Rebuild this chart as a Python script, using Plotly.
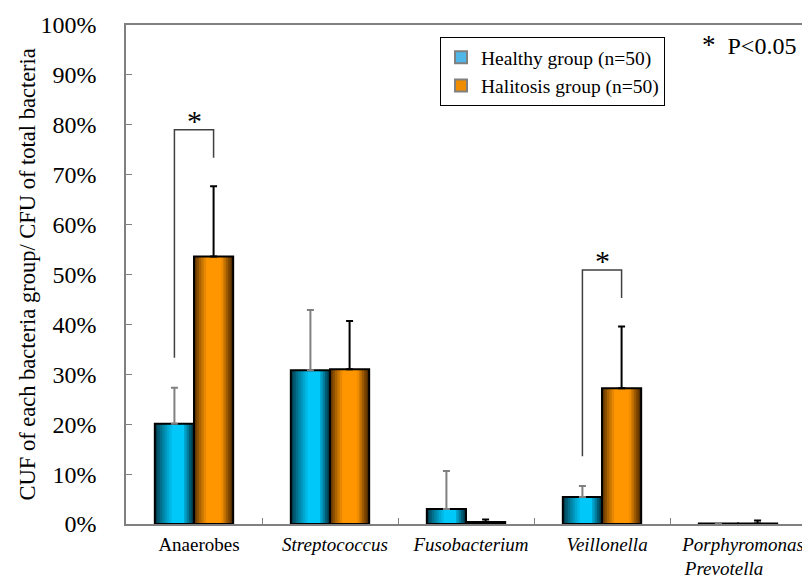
import plotly.graph_objects as go

categories = ["Anaerobes", "Streptococcus", "Fusobacterium", "Veillonella", "Porphyromonas Prevotella"]
tick_labels = ["Anaerobes", "<i>Streptococcus</i>", "<i>Fusobacterium</i>", "<i>Veillonella</i>",
               "<i>Porphyromonas</i><br><i>Prevotella</i>\u00a0\u00a0\u00a0\u00a0\u00a0\u00a0\u00a0\u00a0"]
healthy = [20.1, 30.8, 3.0, 5.4, 0.1]
healthy_sd = [7.2, 12.1, 7.6, 2.2, 0.1]
halitosis = [53.6, 31.0, 0.4, 27.2, 0.1]
halitosis_sd = [14.1, 9.7, 0.5, 12.4, 0.6]
significant = [0, 3]
y_ticks = [0, 10, 20, 30, 40, 50, 60, 70, 80, 90, 100]
y_tick_text = [f"{v}%" for v in y_ticks]
y_title = "CUF of each bacteria group/ CFU of total bacteria"

FONT = "Liberation Serif"
W = 0.288          # bar width in category units
N = 16             # gradient strips per bar

def profile(t, lo, hi):
    if t < lo:
        return 0.12 + 0.88 * (t / lo) ** 0.8
    if t <= hi:
        return 1.0
    return 1.0 - 0.9 * ((t - hi) / (1 - hi)) ** 0.9

def mix(dark, bright, b):
    return "rgb(%d,%d,%d)" % tuple(int(d + (br - d) * b) for d, br in zip(dark, bright))

series = [
    dict(name="Healthy group (n=50)", y=healthy, sd=healthy_sd, base=-W,
         dark=(0, 25, 35), bright=(0, 200, 248), lo=0.45, hi=0.72, err="#808080", legend_color="#4fb8e8"),
    dict(name="Halitosis group (n=50)", y=halitosis, sd=halitosis_sd, base=0.0,
         dark=(45, 22, 0), bright=(255, 150, 0), lo=0.33, hi=0.70, err="#000000", legend_color="#f08c00"),
]

fig = go.Figure()
for s in series:
    for i in range(N):
        t = (i + 0.5) / N
        fig.add_trace(go.Bar(
            x=categories, y=s["y"], width=W - i * W / N, offset=s["base"] + i * W / N,
            marker=dict(color=mix(s["dark"], s["bright"], profile(t, s["lo"], s["hi"])), line=dict(width=0)),
            showlegend=False, hoverinfo="skip"))
    fig.add_trace(go.Bar(
        x=categories, y=s["y"], width=W, offset=s["base"],
        marker=dict(color="rgba(0,0,0,0)", line=dict(color="black", width=2)),
        error_y=dict(type="data", symmetric=False, array=s["sd"], arrayminus=[0] * len(categories),
                     color=s["err"], thickness=2, width=3.5),
        showlegend=False))
# legend entries
for s in series:
    fig.add_trace(go.Bar(x=[categories[0]], y=[None], name=s["name"],
                         marker=dict(color=s["legend_color"], line=dict(color="#808080", width=1))))

# significance brackets
for g in significant:
    htop = healthy[g] + healthy_sd[g]
    ktop = halitosis[g] + halitosis_sd[g]
    xl, xr = g - W / 2, g + W / 2
    ytop = max(htop, ktop) + 11.3
    fig.add_shape(type="path",
                  path=f"M {xl} {htop + 6} L {xl} {ytop} L {xr} {ytop} L {xr} {ktop + 5.7}",
                  xref="x", yref="y", line=dict(color="#404040", width=1.5))
    fig.add_annotation(x=g, y=ytop - 1.8, xref="x", yref="y", text="*", showarrow=False,
                       yanchor="bottom", font=dict(family=FONT, size=30, color="black"))

fig.add_annotation(xref="paper", yref="paper", x=(700 - 126) / 680, y=(524 - 45) / 499,
                   text="<span style='font-size:27px'>*</span>  P<0.05", showarrow=False,
                   xanchor="left", yanchor="middle",
                   font=dict(family=FONT, size=24, color="black"))

# y-axis title
fig.add_annotation(xref="paper", yref="paper", x=(27 - 126) / 680, y=0.5,
                   text=y_title, textangle=-90, showarrow=False,
                   xanchor="center", yanchor="middle",
                   font=dict(family=FONT, size=22.5, color="black"))

# the page has an 8px body margin, so the figure is 8px smaller than the window
fig.update_layout(
    width=802, height=568,
    margin=dict(l=118, r=4, t=17, b=52),
    paper_bgcolor="white", plot_bgcolor="white",
    barmode="overlay",
    font=dict(family=FONT, color="black"),
    showlegend=True,
    legend=dict(x=(440 - 126) / 680, y=(524 - 37) / 499, xanchor="left", yanchor="top",
                bgcolor="white", bordercolor="black", borderwidth=1,
                font=dict(family=FONT, size=19.5, color="black"), traceorder="normal",
                itemsizing="constant", tracegroupgap=0),
    xaxis=dict(type="category", categoryorder="array", categoryarray=categories,
               tickmode="array", tickvals=categories, ticktext=tick_labels, automargin=False,
               tickson="boundaries", ticks="inside", ticklen=6, tickcolor="#808080",
               showline=True, mirror=True, linecolor="#808080", linewidth=1.5,
               showgrid=False, range=[-0.5, 4.5], ticklabelshift=5, ticklabelstandoff=2,
               tickfont=dict(family=FONT, size=19, color="black")),
    yaxis=dict(range=[0, 100], tickmode="array", tickvals=y_ticks, ticktext=y_tick_text,
               ticks="inside", ticklen=6, tickcolor="#808080", automargin=False,
               showline=True, mirror=True, linecolor="#808080", linewidth=1.5,
               showgrid=False, zeroline=False, ticklabelstandoff=23,
               tickfont=dict(family=FONT, size=24, color="black")),
)

fig.write_html("out.html")
